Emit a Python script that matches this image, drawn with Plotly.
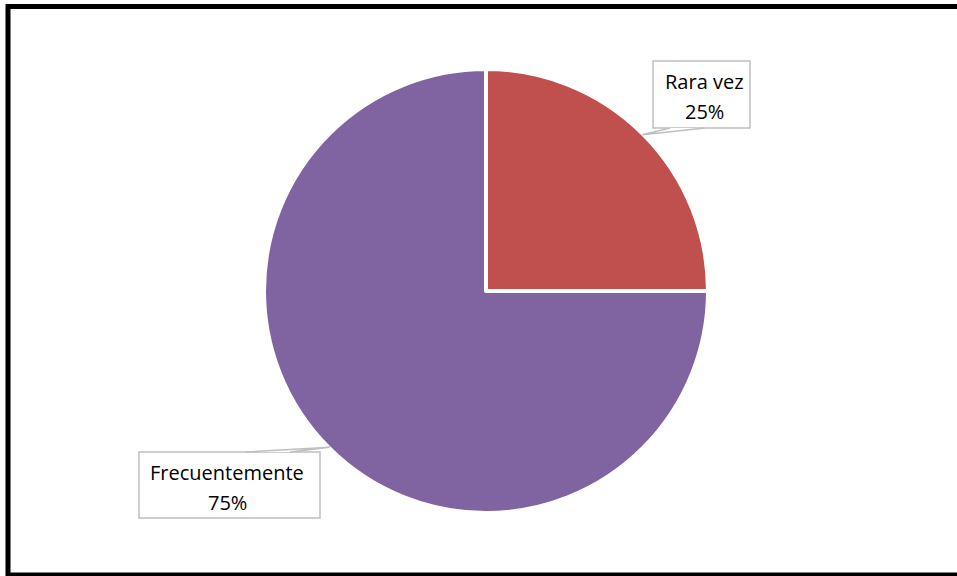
import math
import plotly.graph_objects as go

# ---- data ----
categories = ["Rara vez", "Frecuentemente"]
values = [25, 75]
colors = ["#C0504D", "#8064A2"]

W, H = 957, 576
CX, CY, R = 486, 291, 221  # pie centre / radius in px (layout)

def px(x):
    return x / W

def py(y):
    return 1 - y / H

fig = go.Figure(go.Pie(
    labels=categories,
    values=values,
    marker=dict(colors=colors, line=dict(color="white", width=4)),
    sort=False,
    direction="clockwise",
    rotation=0,
    textinfo="none",
    hoverinfo="label+percent",
    showlegend=False,
    domain=dict(x=[px(CX - R - 1), px(CX + R + 1)], y=[py(CY + R + 1), py(CY - R - 1)]),
))

# label box layout (px)
boxes = [
    dict(x0=653, y0=61, x1=750, y1=128, ty1=81, ty2=111, bx=(670, 705), by=128, tx=704),
    dict(x0=139, y0=452, x1=320, y1=518, ty1=472, ty2=502, bx=(245, 290), by=452, tx=227),
]

shapes = []
annotations = []
total = sum(values)
cum = 0
font = dict(family="Open Sans, Arial, sans-serif", size=20, color="#000000")
for i, (cat, v) in enumerate(zip(categories, values)):
    theta = 2 * math.pi * (cum + v / 2) / total
    cum += v
    tipx = CX + R * math.sin(theta)
    tipy = CY - R * math.cos(theta)
    b = boxes[i]
    shapes.append(dict(type="rect", xref="paper", yref="paper",
                       x0=px(b["x0"]), x1=px(b["x1"]), y0=py(b["y1"]), y1=py(b["y0"]),
                       line=dict(color="#BFBFBF", width=1.5), fillcolor="white", layer="above"))
    path = "M {:.5f},{:.5f} L {:.5f},{:.5f} L {:.5f},{:.5f}".format(
        px(b["bx"][0]), py(b["by"]), px(tipx), py(tipy), px(b["bx"][1]), py(b["by"]))
    shapes.append(dict(type="path", xref="paper", yref="paper", path=path,
                       line=dict(color="#BFBFBF", width=1.5), fillcolor="white", layer="above"))
    pct = f"{round(100 * v / total)}%"
    annotations.append(dict(x=px(b["tx"]), y=py(b["ty1"]), xref="paper", yref="paper",
                            text=cat, showarrow=False, font=font,
                            xanchor="center", yanchor="middle"))
    annotations.append(dict(x=px(b["tx"]), y=py(b["ty2"]), xref="paper", yref="paper",
                            text=pct, showarrow=False, font=font,
                            xanchor="center", yanchor="middle"))

# outer frame
shapes.append(dict(type="rect", xref="paper", yref="paper",
                   x0=px(8), x1=px(980), y0=py(575), y1=py(6.5),
                   line=dict(color="black", width=5), fillcolor="rgba(0,0,0,0)", layer="above"))

fig.update_layout(
    width=W, height=H,
    margin=dict(l=0, r=0, t=0, b=0),
    paper_bgcolor="white",
    plot_bgcolor="white",
    shapes=shapes,
    annotations=annotations,
)

fig.write_html(
    "out.html",
    config={"displayModeBar": False},
    post_script="document.body.style.margin='0';document.body.style.overflow='hidden';",
)
